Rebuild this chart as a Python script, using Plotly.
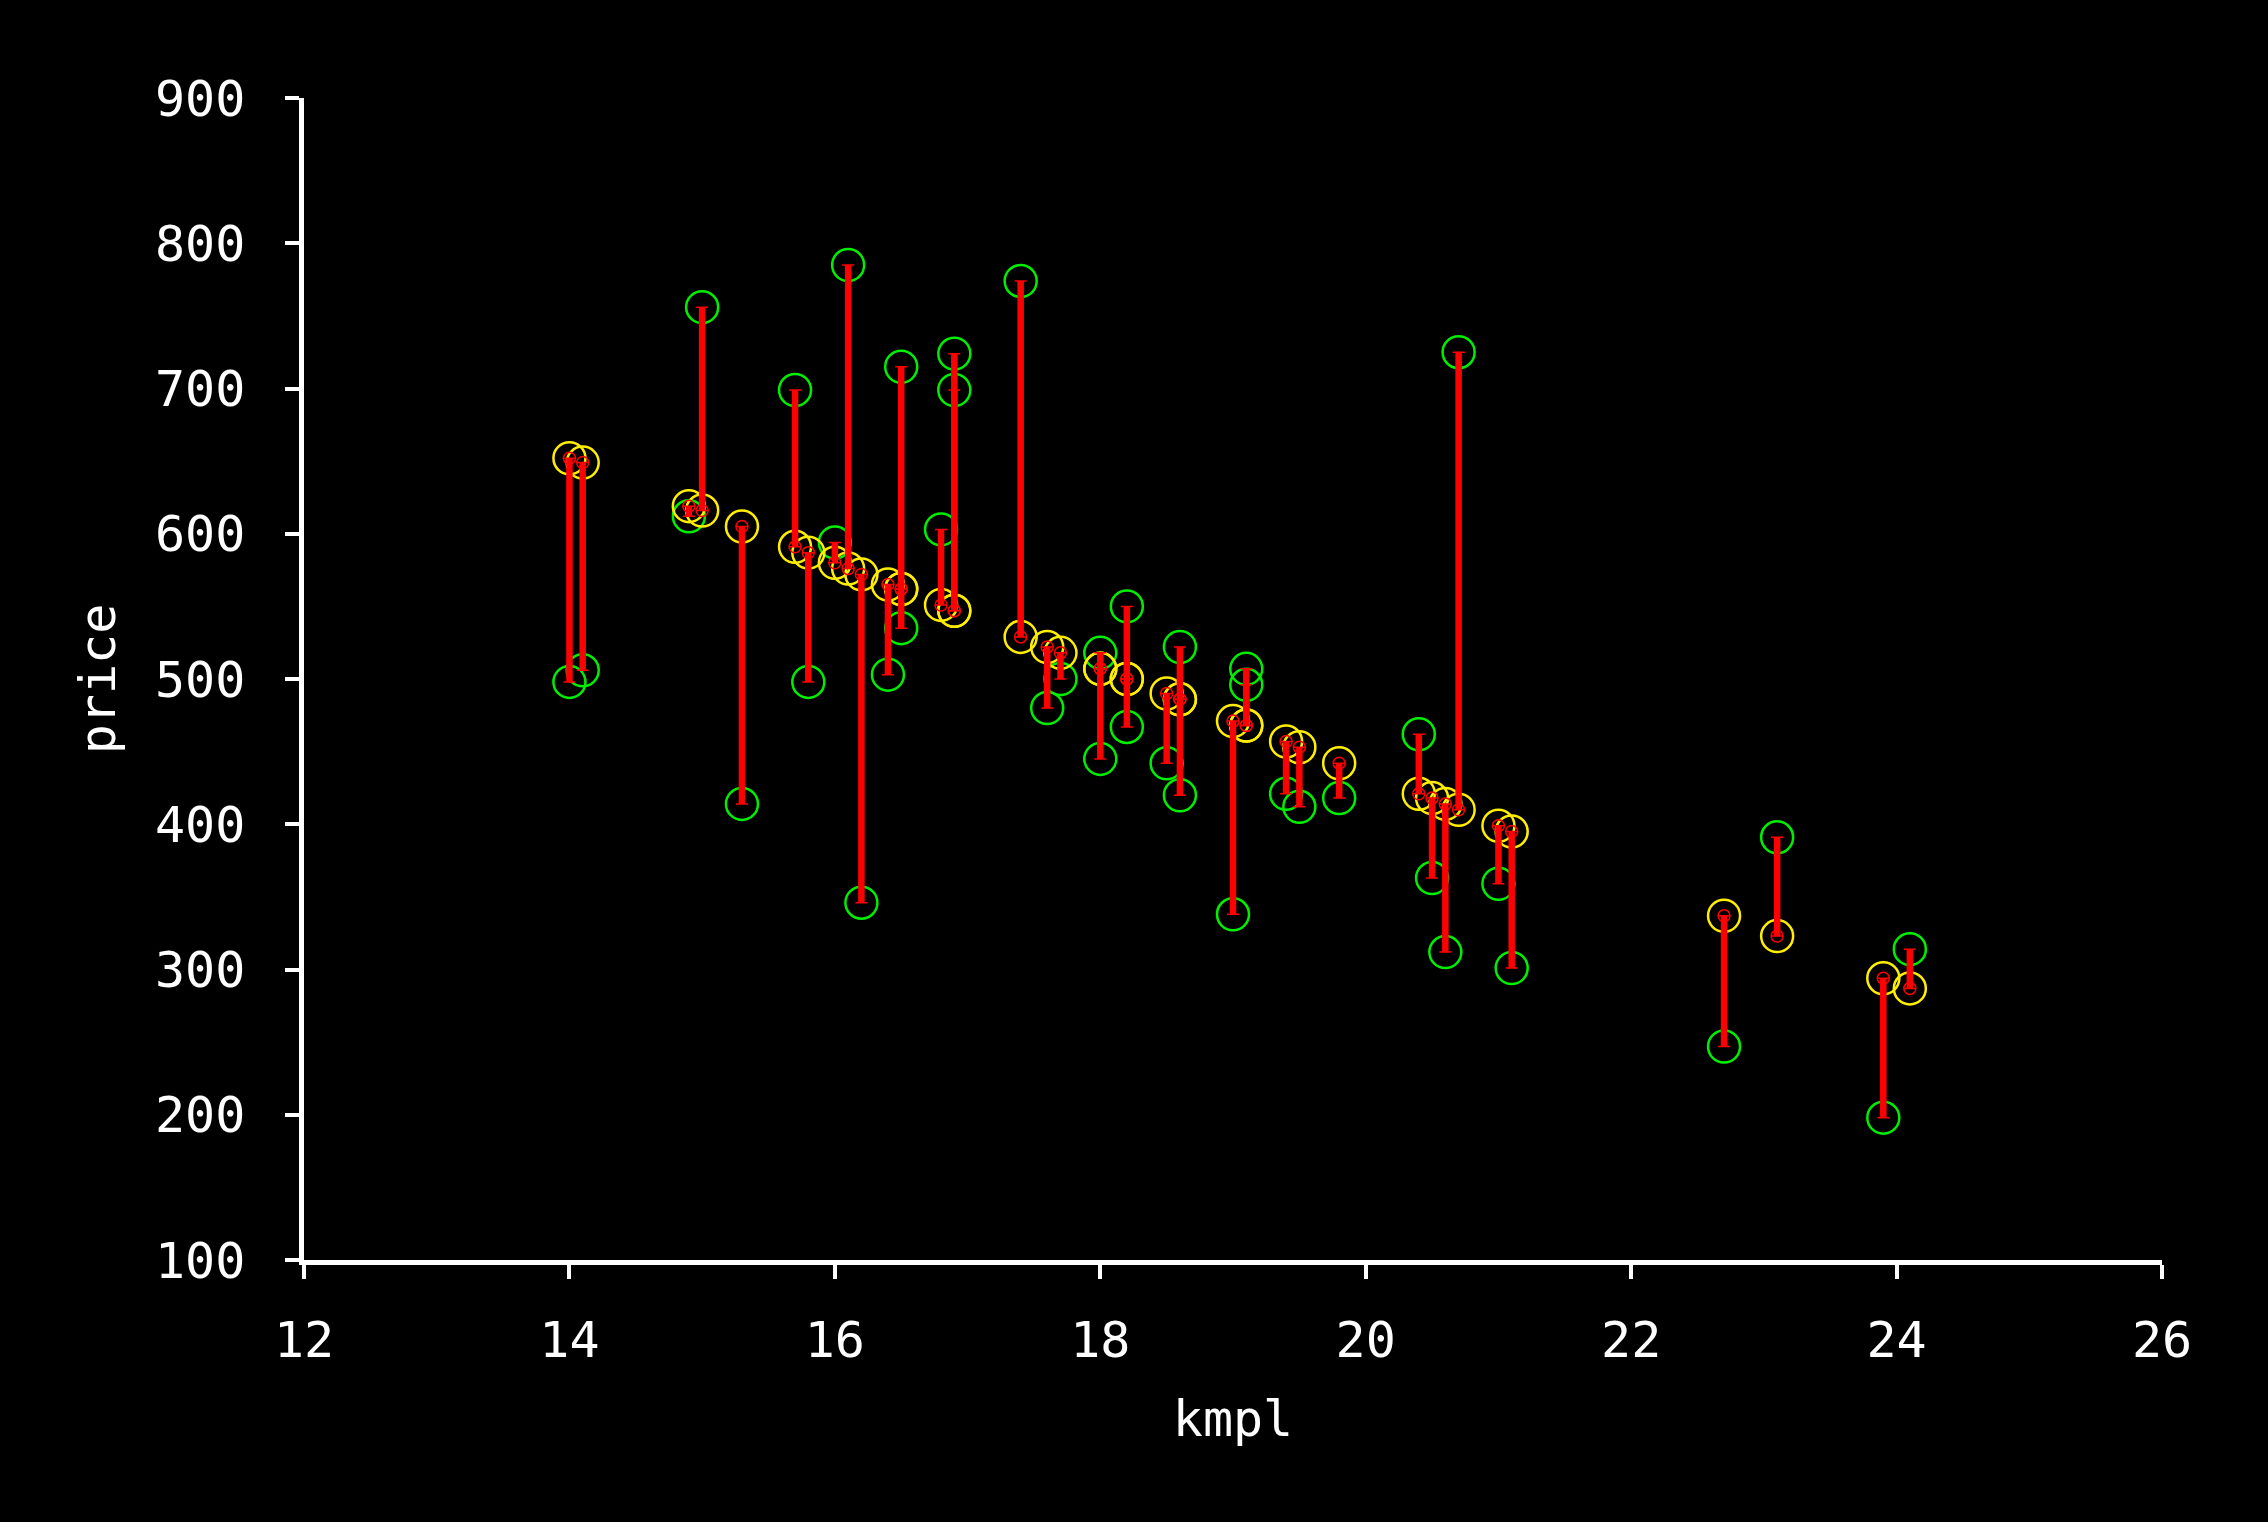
import plotly.graph_objects as go

# kmpl of each car
kmpl = [14.0, 14.1, 14.9, 15.0, 15.3, 15.7, 15.8, 16.0, 16.1, 16.2,
        16.4, 16.5, 16.5, 16.8, 16.9, 16.9, 17.4, 17.6, 17.7, 18.0,
        18.0, 18.2, 18.2, 18.5, 18.6, 18.6, 19.0, 19.1, 19.1, 19.4,
        19.5, 19.8, 20.4, 20.5, 20.6, 20.7, 21.0, 21.1, 22.7, 23.1,
        23.9, 24.1]

# actual price (green circles)
price_actual = [498, 506, 612, 756, 414, 699, 498, 594, 785, 346,
                503, 715, 535, 603, 724, 699, 774, 480, 500, 518,
                445, 550, 467, 442, 522, 420, 338, 507, 496, 421,
                412, 418, 462, 363, 312, 725, 359, 301, 247, 391,
                198, 314]

# predicted price (yellow circles)
price_pred = [652, 649, 619, 616, 605, 591, 587, 580, 576, 572,
              565, 562, 562, 551, 547, 547, 529, 522, 518, 507,
              507, 500, 500, 490, 486, 486, 471, 468, 468, 457,
              453, 442, 421, 418, 414, 410, 399, 395, 337, 323,
              294, 287]

x_ticks = [12, 14, 16, 18, 20, 22, 24, 26]
y_ticks = [100, 200, 300, 400, 500, 600, 700, 800, 900]

err_up = [max(a - p, 0) for a, p in zip(price_actual, price_pred)]
err_down = [max(p - a, 0) for a, p in zip(price_actual, price_pred)]

FONT = "DejaVu Sans Mono"
FS = 50
fig = go.Figure()

fig.add_trace(go.Scatter(
    x=kmpl, y=price_actual, mode="markers",
    marker=dict(symbol="circle-open", size=32, color="#00ee00",
                line=dict(width=2.5, color="#00ee00")),
    showlegend=False, hoverinfo="skip"))

fig.add_trace(go.Scatter(
    x=kmpl, y=price_pred, mode="markers",
    marker=dict(symbol="circle-open", size=32, color="#ffee00",
                line=dict(width=2.5, color="#ffee00")),
    showlegend=False, hoverinfo="skip"))

# thick residual bars
fig.add_trace(go.Scatter(
    x=kmpl, y=price_pred, mode="markers",
    marker=dict(size=1, opacity=0),
    error_y=dict(type="data", symmetric=False, array=err_up,
                 arrayminus=err_down, color="#ff0000", thickness=6.5, width=0),
    showlegend=False, hoverinfo="skip"))

# thin caps + small red circles
fig.add_trace(go.Scatter(
    x=kmpl, y=price_pred, mode="markers",
    marker=dict(symbol="circle-open", size=12, color="#ff0000",
                line=dict(width=1.5, color="#ff0000")),
    error_y=dict(type="data", symmetric=False, array=err_up,
                 arrayminus=err_down, color="#ff0000", thickness=1.5, width=6),
    showlegend=False, hoverinfo="skip"))

axis_common = dict(
    showline=True, linecolor="white", linewidth=4.5,
    ticks="outside", ticklen=14, tickwidth=3.5, tickcolor="white",
    showgrid=False, zeroline=False,
    tickfont=dict(family=FONT, size=FS, color="white"),
)

fig.update_xaxes(range=[12, 26], tickvals=x_ticks,
                 ticktext=[str(v) for v in x_ticks],
                 ticklabelstandoff=18,
                 title=dict(text="kmpl", font=dict(family=FONT, size=FS, color="white"),
                            standoff=35),
                 **axis_common)
fig.update_yaxes(range=[100, 900], tickvals=y_ticks,
                 ticktext=[str(v) for v in y_ticks],
                 ticklabelstandoff=30,
                 title=dict(text="price", font=dict(family=FONT, size=FS, color="white"),
                            standoff=25),
                 **axis_common)

fig.update_layout(
    width=2268, height=1522,
    paper_bgcolor="black", plot_bgcolor="black",
    margin=dict(l=304, r=106, t=98, b=262, pad=0),
    font=dict(family=FONT, color="white"),
    showlegend=False,
)

fig.write_html(
    "out.html",
    config={"displayModeBar": False},
    post_script="document.body.style.margin='0px';document.body.style.background='black';",
)
